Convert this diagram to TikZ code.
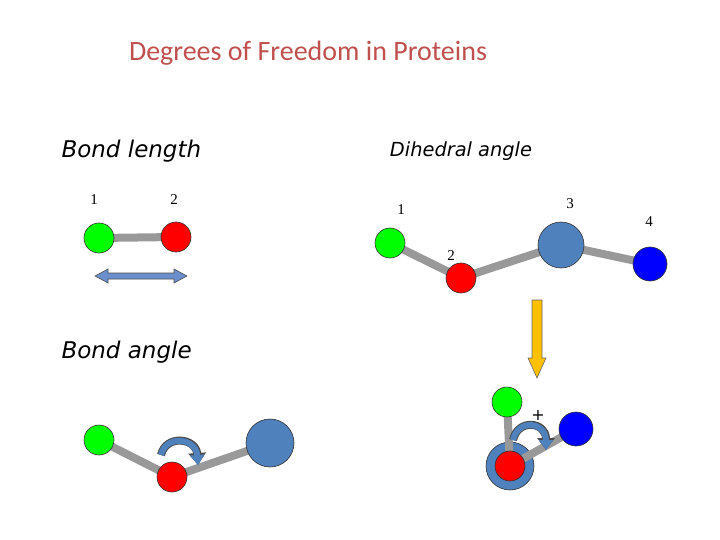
\documentclass[tikz,border=0pt]{standalone}
\usepackage{fontspec}
\setmainfont{DejaVu Sans}
\newfontfamily\calfont{Carlito}
\newfontfamily\serfont{Liberation Serif}
\usetikzlibrary{arrows.meta}
\definecolor{titlec}{HTML}{C0504D}
\definecolor{steel}{HTML}{4F81BD}
\definecolor{gold}{HTML}{FFC000}
\definecolor{lblue}{HTML}{6A8FCC}
\tikzset{
 atom/.style={circle,draw=black!80,line width=0.6pt,inner sep=0pt},
 bond/.style={draw=gray!80,line width=8pt},
 num/.style={font=\serfont\fontsize{15}{15}\selectfont},
 head/.style={font=\itshape\fontsize{23}{23}\selectfont},
 twist/.style={draw=black!70,line width=8pt,-{Triangle[length=12pt,width=17pt]},
   postaction={draw=steel,line width=6pt,-{Triangle[length=10pt,width=14pt]}}}
}
\begin{document}
\begin{tikzpicture}[x=1pt,y=-1pt]
\useasboundingbox (0,0) rectangle (720,540);
\node[font=\calfont\fontsize{28}{28}\selectfont,text=titlec] (title) at (308,53) {Degrees of Freedom in Proteins};
\node[head,anchor=west] (bl) at (58,151) {Bond length};
\node[font=\itshape\fontsize{19.4}{19.4}\selectfont] (dh) at (461,151) {Dihedral angle};
\node[head,anchor=west] (ba) at (58,352) {Bond angle};
% bond length
\node[num] (n1) at (94,200) {1};
\node[num] (n2) at (174,200) {2};
\coordinate (lg) at (99,238);
\coordinate (lr) at (176,237);
\draw[bond] (lg) -- (lr);
\node[atom,fill=green,minimum size=30pt] (g1) at (lg) {};
\node[atom,fill=red,minimum size=30pt] (r1) at (lr) {};
\draw[draw=black!70,fill=lblue,line width=0.6pt] (95,276) -- (108,269) -- (108,273) -- (174,273) -- (174,269) -- (187,276) -- (174,283) -- (174,279) -- (108,279) -- (108,283) -- cycle;
% dihedral
\node[num] (d1) at (401,210) {1};
\node[num] (d3) at (570,204) {3};
\node[num] (d4) at (649,222) {4};
\node[num] (d2) at (451,256) {2};
\coordinate (pg) at (390,243);
\coordinate (pr) at (461,278);
\coordinate (ps) at (561,245);
\coordinate (pb) at (650,264);
\draw[bond] (pg) -- (pr) -- (ps) -- (pb);
\node[atom,fill=green,minimum size=30pt] (dg) at (pg) {};
\node[atom,fill=red,minimum size=30pt] (dr) at (pr) {};
\node[atom,fill=steel,minimum size=46pt] (ds) at (ps) {};
\node[atom,fill=blue,minimum size=34pt] (db) at (pb) {};
% yellow arrow
\draw[draw=black!60,fill=gold,line width=0.6pt] (532,300) -- (542,300) -- (542,358) -- (546,358) -- (537,378) -- (528,358) -- (532,358) -- cycle;
% projection
\coordinate (qg) at (507,402);
\coordinate (qr) at (510,466);
\coordinate (qb) at (576,429);
\node[atom,fill=steel,minimum size=48pt] (qs) at (qr) {};
\draw[bond] (qg) -- (qr) -- (qb);
\node[atom,fill=green,minimum size=30pt] (eg) at (qg) {};
\node[atom,fill=red,minimum size=30pt] (er) at (qr) {};
\node[atom,fill=blue,minimum size=34pt] (eb) at (qb) {};
\node[font=\fontsize{16}{16}\selectfont] (plus) at (538,415) {+};
\coordinate (ta) at (513,440);
\coordinate (tb) at (546,450);
\draw[twist] (ta) .. controls (518,418) and (546,422) .. (tb);
% bond angle
\coordinate (ag) at (99,440);
\coordinate (ar) at (172,477);
\coordinate (as) at (270,443);
\draw[bond] (ag) -- (ar) -- (as);
\node[atom,fill=green,minimum size=30pt] (fg) at (ag) {};
\node[atom,fill=red,minimum size=30pt] (fr) at (ar) {};
\node[atom,fill=steel,minimum size=48pt] (fs) at (as) {};
\coordinate (tc) at (161,455);
\coordinate (td) at (198,465);
\draw[twist] (tc) .. controls (166,434) and (196,438) .. (td);
\end{tikzpicture}
\end{document}
